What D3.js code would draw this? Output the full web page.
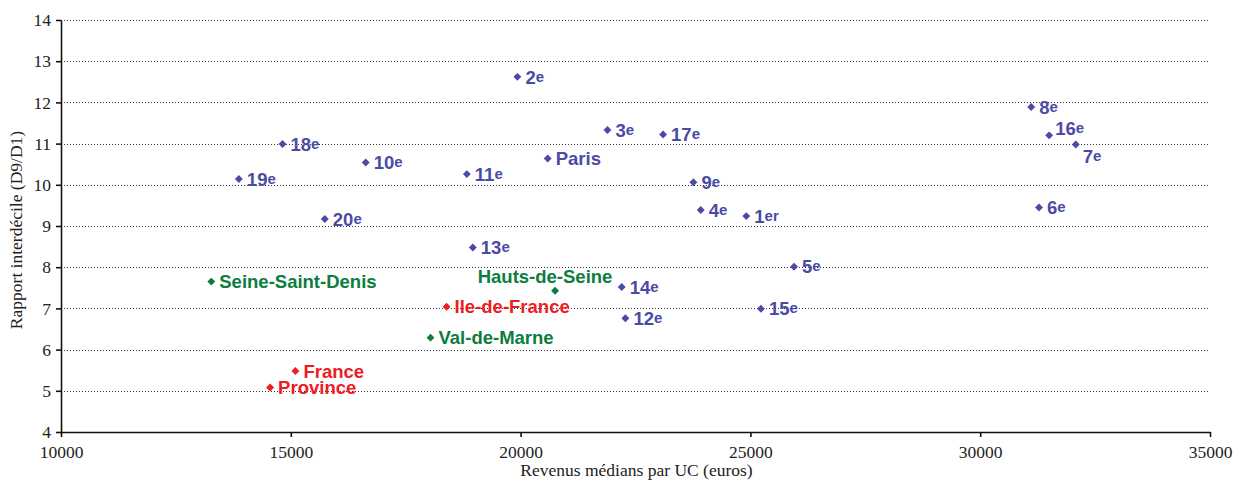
<!DOCTYPE html>
<html>
<head>
<meta charset="utf-8">
<script src="https://cdn.jsdelivr.net/npm/d3@7"></script>
<style>
  body { margin: 0; background: #fff; }
  .tick text { font-family: "Liberation Serif", "DejaVu Serif", serif; }
</style>
</head>
<body>
<div id="wrapper"></div>
<script>
// data
const noms = ["19e","18e","10e","20e","2e","3e","17e","Paris","11e","9e","4e","1er",
  "8e","16e","7e","6e","13e","5e","Hauts-de-Seine","14e","Ile-de-France","15e","12e",
  "Val-de-Marne","Seine-Saint-Denis","France","Province"]
const revenus = [13870,14820,16630,15740,19930,21890,23100,20590,18830,23760,23920,24910,
  31110,31500,32080,31280,18960,25950,20750,22200,18390,25230,22280,
  18040,13270,15100,14550]
const rapports = [10.14,10.99,10.54,9.17,12.62,11.33,11.22,10.64,10.26,10.06,9.39,9.24,
  11.89,11.2,10.98,9.45,8.48,8.01,7.43,7.52,7.04,6.99,6.76,
  6.29,7.65,5.48,5.08]
const groupes = ["arr","arr","arr","arr","arr","arr","arr","arr","arr","arr","arr","arr",
  "arr","arr","arr","arr","arr","arr","dep","arr","reg","arr","arr",
  "dep","dep","reg","reg"]
const xTicks = [10000,15000,20000,25000,30000,35000]
const yTicks = [4,5,6,7,8,9,10,11,12,13,14]

const couleurs = {arr: "#4b4ba6", dep: "#0b7d3e", reg: "#ee1c25"}

const data = noms.map((n, i) => ({nom: n, x: revenus[i], y: rapports[i], g: groupes[i]}))

let dimensions = {
  width: 1242,
  height: 481,
  margin: { top: 20, right: 32, bottom: 49, left: 61 }
}
dimensions.boundedWidth = dimensions.width - dimensions.margin.left - dimensions.margin.right
dimensions.boundedHeight = dimensions.height - dimensions.margin.top - dimensions.margin.bottom

const svg = d3.select("#wrapper")
  .append("svg")
  .attr("width", dimensions.width)
  .attr("height", dimensions.height)

const bounds = svg.append("g")
  .attr("transform", `translate(${dimensions.margin.left},${dimensions.margin.top})`)

const xScaler = d3.scaleLinear()
  .domain([10000, 35000])
  .range([0, dimensions.boundedWidth])

const yScaler = d3.scaleLinear()
  .domain([4, 14])
  .range([dimensions.boundedHeight, 0])

// dotted grid
bounds.append("g")
  .selectAll("line")
  .data(yTicks.filter(d => d > 4))
  .join("line")
    .attr("x1", 0)
    .attr("x2", dimensions.boundedWidth)
    .attr("y1", d => Math.round(yScaler(d)) + 0.5)
    .attr("y2", d => Math.round(yScaler(d)) + 0.5)
    .attr("stroke", "#333")
    .attr("stroke-width", 1)
    .attr("stroke-dasharray", "1,2")

const xAxis = bounds.append("g")
  .attr("transform", `translate(0,${dimensions.boundedHeight})`)
  .call(d3.axisBottom(xScaler).tickValues(xTicks).tickFormat(d3.format("d")).tickSize(5).tickSizeOuter(0))
xAxis.selectAll("text").attr("font-size", "17.5px").attr("fill", "#222").attr("y", 11).attr("dy", "0.85em")

const yAxis = bounds.append("g")
  .call(d3.axisLeft(yScaler).tickValues(yTicks).tickFormat(d3.format("d")).tickSize(5).tickSizeOuter(0))
yAxis.selectAll("text").attr("font-size", "17.5px").attr("fill", "#222").attr("x", -10)

svg.selectAll(".domain, .tick line").attr("stroke", "#111").attr("stroke-width", 1.6)

svg.append("text")
  .attr("x", dimensions.margin.left + dimensions.boundedWidth / 2 + 1)
  .attr("y", 476)
  .attr("text-anchor", "middle")
  .attr("font-family", "Liberation Serif, serif")
  .attr("font-size", "17.5px")
  .attr("fill", "#222")
  .text("Revenus médians par UC (euros)")

svg.append("text")
  .attr("transform", `translate(22,${dimensions.margin.top + dimensions.boundedHeight / 2 + 4}) rotate(-90)`)
  .attr("text-anchor", "middle")
  .attr("font-family", "Liberation Serif, serif")
  .attr("font-size", "17.5px")
  .attr("fill", "#222")
  .text("Rapport interdécile (D9/D1)")

// points
bounds.selectAll(".pt")
  .data(data)
  .join("path")
    .attr("class", "pt")
    .attr("d", d3.symbol(d3.symbolDiamond2, 40))
    .attr("transform", d => `translate(${xScaler(d.x)},${yScaler(d.y)})`)
    .attr("fill", d => couleurs[d.g])

// label placement exceptions
const decalages = {
  "Hauts-de-Seine": {dx: -10, dy: -14, anchor: "middle"},
  "7e": {dx: 7, dy: 12},
  "16e": {dx: 6, dy: -7},
  "8e": {dx: 8, dy: 0}
}

const labels = bounds.selectAll(".lbl")
  .data(data)
  .join("text")
    .attr("class", "lbl")
    .attr("x", d => xScaler(d.x) + (decalages[d.nom] ? decalages[d.nom].dx : 8))
    .attr("y", d => yScaler(d.y) + (decalages[d.nom] ? decalages[d.nom].dy : 0))
    .attr("dy", "0.36em")
    .attr("text-anchor", d => decalages[d.nom] && decalages[d.nom].anchor ? decalages[d.nom].anchor : "start")
    .attr("font-family", "Liberation Sans, Arial, sans-serif")
    .attr("font-weight", "bold")
    .attr("font-size", "18.5px")
    .attr("fill", d => couleurs[d.g])

labels.each(function(d) {
  const t = d3.select(this)
  const m = d.nom.match(/^(\d+)(e|er)$/)
  if (m) {
    t.append("tspan").text(m[1])
    t.append("tspan").text(m[2]).attr("font-size", "15px").attr("dy", "-2")
  } else {
    t.text(d.nom)
  }
})
</script>
</body>
</html>
